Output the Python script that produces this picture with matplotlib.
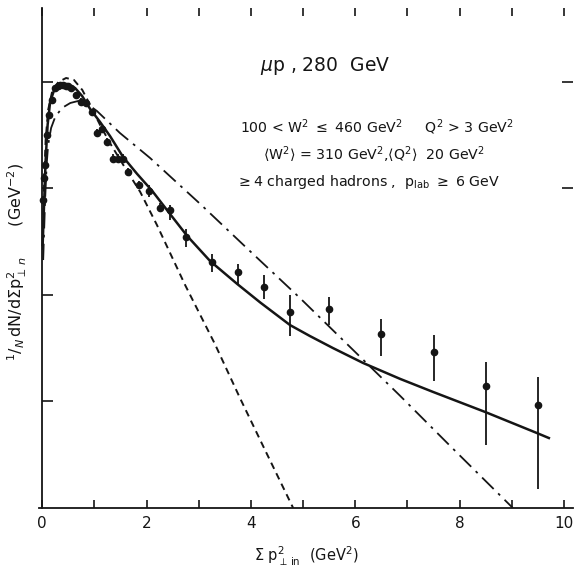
import numpy as np
import matplotlib
matplotlib.use("Agg")
import matplotlib.pyplot as plt
from matplotlib.ticker import FixedLocator, NullLocator, NullFormatter

# measured points (sum p_perp_in^2 in GeV^2, 1/N dN/dsum in GeV^-2)
x_pts = [0.02, 0.04, 0.06, 0.10, 0.14, 0.18, 0.25, 0.30, 0.35, 0.40, 0.45, 0.50,
         0.55, 0.65, 0.75, 0.85, 0.95, 1.05, 1.15, 1.25, 1.35, 1.45, 1.55, 1.65,
         1.85, 2.05, 2.25, 2.45, 2.75, 3.25, 3.75, 4.25, 4.75, 5.5, 6.5, 7.5, 8.5, 9.5]
y_pts = [0.078, 0.126, 0.166, 0.318, 0.49, 0.678, 0.879, 0.917, 0.938, 0.938, 0.917, 0.917,
         0.879, 0.755, 0.649, 0.635, 0.523, 0.332, 0.362, 0.273, 0.189, 0.189, 0.189, 0.143,
         0.108, 0.0948, 0.0656, 0.0628, 0.0351, 0.0204, 0.0164, 0.0119, 0.00692, 0.00739,
         0.0043, 0.00292, 0.0014, 0.000927]
# error bar ends (upper, lower)
y_hi = [0.085, 0.137, 0.181, 0.345, 0.53, 0.73, 0.94, 0.98, 1.0, 1.0, 0.98, 0.98,
        0.94, 0.81, 0.70, 0.68, 0.56, 0.36, 0.39, 0.30, 0.21, 0.21, 0.21, 0.157,
        0.118, 0.108, 0.073, 0.070, 0.0417, 0.0243, 0.0195, 0.0154, 0.0100, 0.00958,
        0.00595, 0.00421, 0.00235, 0.00170]
y_lo = [0.071, 0.116, 0.152, 0.292, 0.45, 0.62, 0.82, 0.86, 0.88, 0.88, 0.86, 0.86,
        0.82, 0.70, 0.60, 0.59, 0.48, 0.305, 0.333, 0.25, 0.172, 0.172, 0.172, 0.131,
        0.099, 0.0832, 0.0595, 0.0506, 0.0282, 0.0164, 0.0124, 0.00917, 0.00412, 0.00523,
        0.00267, 0.00156, 0.000391, 0.000151]

# solid curve
x_solid = [0.01, 0.04, 0.067, 0.105, 0.153, 0.23, 0.345, 0.5, 0.63, 0.766, 0.92, 1.11,
           1.30, 1.55, 1.82, 2.11, 2.45, 2.78, 3.22, 3.74, 4.18, 4.75, 5.13, 5.57,
           6.15, 6.86, 7.49, 8.49, 9.48, 9.71]
y_solid = [0.0295, 0.078, 0.185, 0.395, 0.649, 0.841, 0.917, 0.917, 0.879, 0.739, 0.558, 0.421,
           0.311, 0.198, 0.137, 0.0948, 0.0577, 0.0358, 0.0208, 0.01267, 0.0085, 0.00522,
           0.00412, 0.00318, 0.0023, 0.00163, 0.00123, 0.000797, 0.000506, 0.000454]

# short dashed curve
x_dash = [0.01, 0.04, 0.067, 0.115, 0.19, 0.31, 0.46, 0.61, 0.77, 0.92, 1.11, 1.30,
          1.59, 1.88, 2.20, 2.74, 3.31, 3.79, 4.27, 4.81]
y_dash = [0.0265, 0.120, 0.285, 0.546, 0.805, 1.0, 1.09, 1.044, 0.841, 0.608, 0.395, 0.267,
          0.156, 0.0927, 0.0454, 0.0124, 0.00347, 0.00108, 0.000351, 0.0001]

# dash-dot curve
x_dd = [0.02, 0.057, 0.086, 0.115, 0.172, 0.25, 0.38, 0.54, 0.69, 0.84, 1.05, 1.49,
        2.07, 3.03, 3.98, 4.94, 5.90, 6.86, 7.82, 9.02]
y_dd = [0.0213, 0.078, 0.166, 0.256, 0.370, 0.469, 0.570, 0.635, 0.663, 0.635, 0.534, 0.332,
        0.193, 0.0715, 0.0259, 0.00937, 0.00325, 0.00113, 0.000382, 0.0001]

x_major = [0, 2, 4, 6, 8, 10]
x_minor = [1, 3, 5, 7, 9]

ink = "#151515"

fig = plt.figure(figsize=(5.76, 5.70), dpi=100)
ax = fig.add_axes([39 / 576, 62 / 570, 534.4 / 576, 500 / 570])

ax.set_yscale("log")
ax.set_xlim(-0.06, 10.18)
ax.set_ylim(1e-4, 4.95)

ax.plot(x_solid, y_solid, color=ink, lw=1.8)
ax.plot(x_dash, y_dash, color=ink, lw=1.4, ls=(0, (3.5, 2.5)))
ax.plot(x_dd, y_dd, color=ink, lw=1.3, ls=(0, (9, 3.5, 1.5, 3.5)))

yp = np.array(y_pts)
yerr = [yp - np.array(y_lo), np.array(y_hi) - yp]
xerr = [0.05 if 1.3 < x < 1.6 else 0 for x in x_pts]
ax.errorbar(x_pts, y_pts, yerr=yerr, xerr=xerr, fmt="o", color=ink, ms=4.5,
            elinewidth=1.3, capsize=0)

# spines: only left and bottom visible
for s in ["top", "right"]:
    ax.spines[s].set_visible(False)
ax.spines["left"].set_position(("data", 0))
for s in ["left", "bottom"]:
    ax.spines[s].set_linewidth(1.3)
    ax.spines[s].set_color(ink)

ax.xaxis.set_major_locator(FixedLocator(x_major))
ax.xaxis.set_minor_locator(FixedLocator(x_minor))
ax.set_xticklabels(["0", "2", "4", "6", "8", "10"])
ax.tick_params(axis="x", which="both", direction="in", length=6, width=1.2,
               top=True, labelsize=11, pad=6, colors=ink)

ax.yaxis.set_major_locator(FixedLocator([1e-3, 1e-2, 1e-1, 1]))
ax.yaxis.set_minor_locator(NullLocator())
ax.yaxis.set_major_formatter(NullFormatter())
ax.tick_params(axis="y", which="major", direction="in", length=8, width=1.2, colors=ink)

# right-hand ticks (only two survive on the original)
ax2 = ax.twinx()
ax2.set_yscale("log")
ax2.set_ylim(ax.get_ylim())
ax2.yaxis.set_major_locator(FixedLocator([0.1, 1]))
ax2.yaxis.set_minor_locator(NullLocator())
ax2.yaxis.set_major_formatter(NullFormatter())
ax2.tick_params(axis="y", direction="in", length=8, width=1.2, colors=ink)
for s in ax2.spines.values():
    s.set_visible(False)

ax.set_xlabel(r"$\Sigma$ p$^2_{\perp\,\rm in}$  (GeV$^2$)", fontsize=10.5, labelpad=10, color=ink)
fig.text(17 / 576, 1 - 262 / 570, r"$^1/_N\,$dN/d$\Sigma$p$^2_{\perp\,n}$      (GeV$^{-2}$)",
         fontsize=11.5, rotation=90, ha="center", va="center", color=ink)

fig.text(325 / 576, 1 - 66 / 570, r"$\mu$p , 280  GeV", fontsize=13.5, ha="center", va="center", color=ink)
fig.text(377 / 576, 1 - 127 / 570, r"100 < W$^2$ $\leq$ 460 GeV$^2$     Q$^2$ > 3 GeV$^2$",
         fontsize=10.2, ha="center", va="center", color=ink)
fig.text(374 / 576, 1 - 155 / 570, r"$\langle$W$^2\rangle$ = 310 GeV$^2$,$\langle$Q$^2\rangle$  20 GeV$^2$",
         fontsize=10.2, ha="center", va="center", color=ink)
fig.text(368 / 576, 1 - 182 / 570, r"$\geq$4 charged hadrons ,  p$_{\rm lab}$ $\geq$ 6 GeV",
         fontsize=10.2, ha="center", va="center", color=ink)

fig.savefig("out.png", dpi=100, facecolor="white")
